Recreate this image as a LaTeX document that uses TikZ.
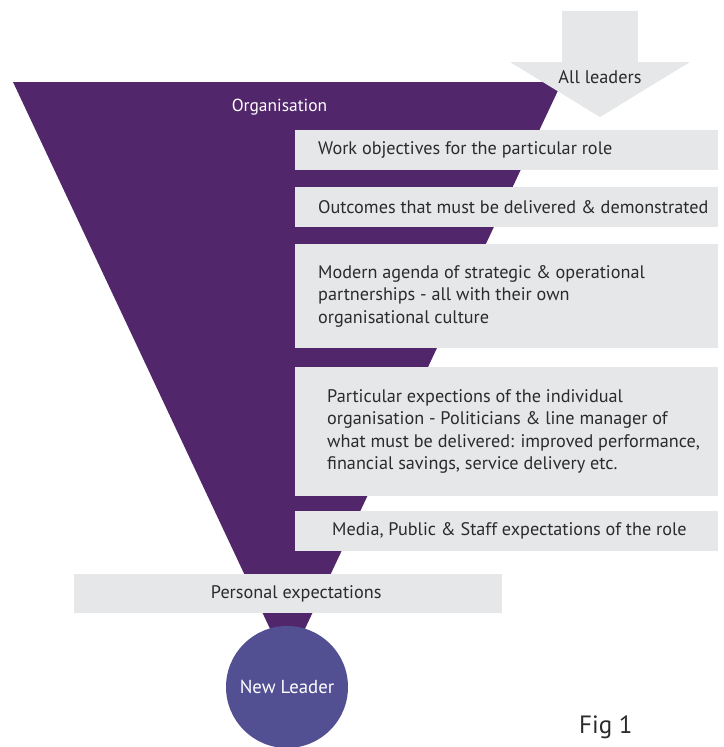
\documentclass[tikz,border=0pt]{standalone}
\usepackage{fontspec}
\setmainfont{PT Sans}
\definecolor{orgpurple}{HTML}{52266B}
\definecolor{leaderblue}{HTML}{524F93}
\definecolor{boxgray}{HTML}{E6E7E8}
\definecolor{txtgray}{HTML}{2B2B2B}
\begin{document}
\begin{tikzpicture}[x=1pt,y=-1pt,
  box/.style={fill=boxgray, draw=none, inner sep=0pt, anchor=north west, minimum width=423pt},
  txt/.style={font=\fontsize{18.2}{22.5}\selectfont, text=txtgray, align=left, inner sep=0pt, anchor=west},
  wtxt/.style={text=white, inner sep=0pt},
]
\useasboundingbox (0,0) rectangle (723,747);
% funnel
\fill[orgpurple] (13,82) -- (562,82) -- (287.5,666) -- cycle;
% arrow
\fill[boxgray] (562,11) rectangle (638,62.5);
\fill[boxgray] (510,62) -- (690,62) -- (600,117) -- cycle;
\node[wtxt, text=txtgray, font=\fontsize{18.3}{22}\selectfont, anchor=base] (all) at (600,83) {All leaders};
\node[wtxt, font=\fontsize{17.4}{22}\selectfont, anchor=base] (org) at (279.5,111) {Organisation};
% boxes
\node[box, minimum height=40pt] (b1) at (295,130) {};
\node[box, minimum height=40pt] (b2) at (295,187) {};
\node[box, minimum height=104pt] (b3) at (295,244) {};
\node[box, minimum height=129pt] (b4) at (295,367) {};
\node[box, minimum height=40pt] (b5) at (295,511) {};
\node[txt] (t1) at ([xshift=23pt]b1.west) {Work objectives for the particular role};
\node[txt] (t2) at ([xshift=23pt]b2.west) {Outcomes that must be delivered \& demonstrated};
\node[txt] (t3) at ([xshift=23pt]b3.west) {Modern agenda of strategic \& operational\\partnerships - all with their own\\organisational culture};
\node[txt] (t4) at ([xshift=32pt]b4.west) {Particular expections of the individual\\organisation - Politicians \& line manager of\\what must be delivered: improved performance,\\financial savings, service delivery etc.};
\node[txt] (t5) at ([xshift=37pt]b5.west) {Media, Public \& Staff expectations of the role};
% personal
\node[box, minimum width=428pt, minimum height=39pt] (pe) at (74,574) {};
\node[txt, anchor=center] (pet) at ([xshift=8pt]pe.center) {Personal expectations};
% leader
\node[circle, fill=leaderblue, minimum size=122pt, inner sep=0pt, wtxt, font=\fontsize{18.8}{22}\selectfont] (nl) at (287,687) {New Leader};
\node[font=\fontsize{25}{30}\selectfont, text=txtgray, anchor=base west, inner sep=0pt] (fig) at (579,733) {Fig 1};
\end{tikzpicture}
\end{document}
